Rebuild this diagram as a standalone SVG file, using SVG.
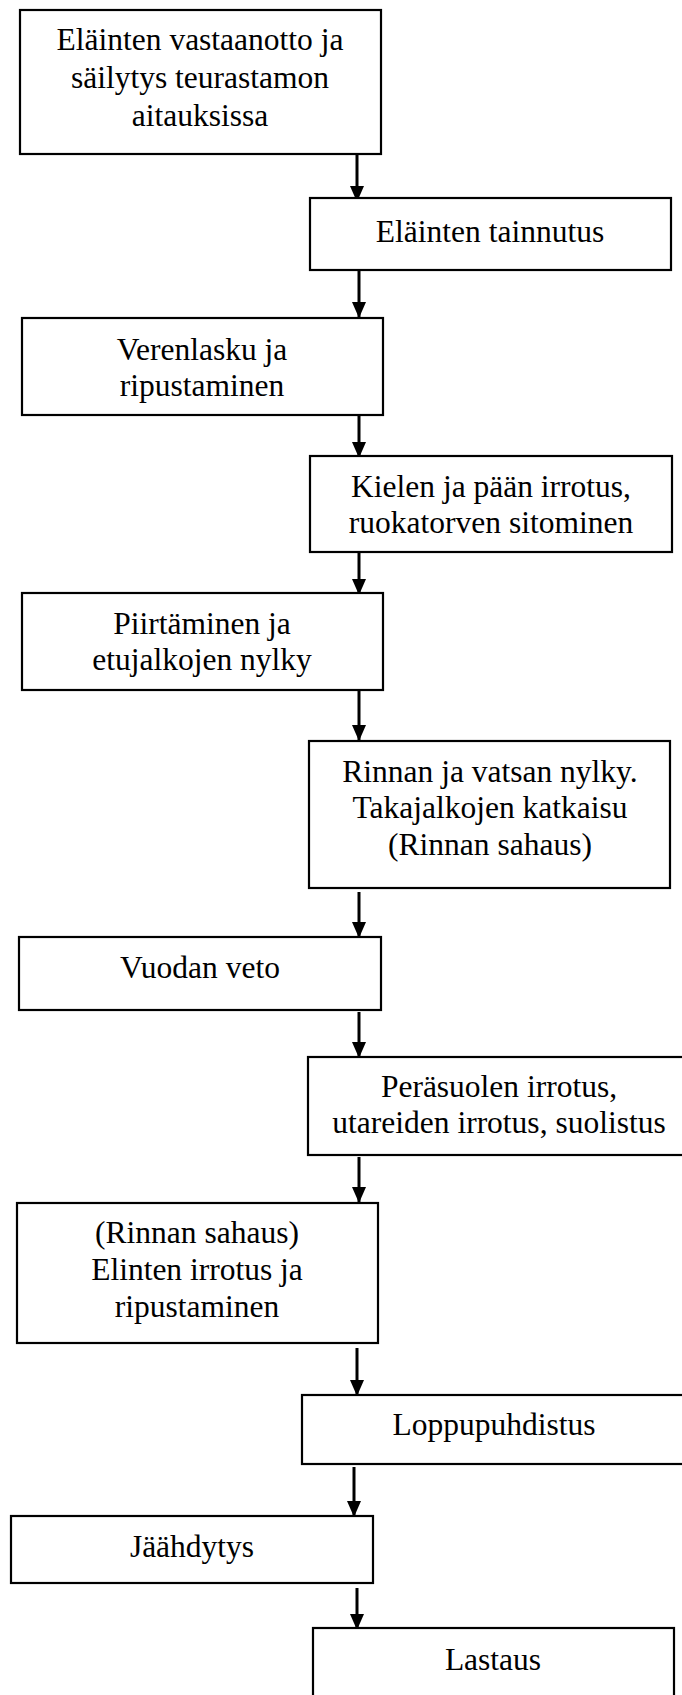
<svg xmlns="http://www.w3.org/2000/svg" width="682" height="1695" viewBox="0 0 682 1695">
<style>
.box{fill:#fff;stroke:#000;stroke-width:2.2}
.t{font-family:"Liberation Serif","Times New Roman",serif;font-size:31.5px;fill:#000;text-anchor:middle}
.c{stroke:#000;stroke-width:3;fill:none}
</style>
<defs>
<marker id="ah" markerUnits="userSpaceOnUse" markerWidth="18" markerHeight="16" viewBox="0 -8 16 16" refX="16" refY="0" orient="auto">
<path d="M0,-7 L16,0 L0,7 z" fill="#000"/>
</marker>
</defs>
<rect width="682" height="1695" fill="#fff"/>
<g id="connectors">
<line class="c" x1="357" y1="155" x2="357" y2="202" marker-end="url(#ah)"/>
<line class="c" x1="359" y1="271" x2="359" y2="318" marker-end="url(#ah)"/>
<line class="c" x1="359" y1="416" x2="359" y2="458" marker-end="url(#ah)"/>
<line class="c" x1="359" y1="553" x2="359" y2="595" marker-end="url(#ah)"/>
<line class="c" x1="359" y1="691" x2="359" y2="741" marker-end="url(#ah)"/>
<line class="c" x1="359" y1="892" x2="359" y2="938" marker-end="url(#ah)"/>
<line class="c" x1="359" y1="1012" x2="359" y2="1058" marker-end="url(#ah)"/>
<line class="c" x1="359" y1="1157" x2="359" y2="1203" marker-end="url(#ah)"/>
<line class="c" x1="357" y1="1348" x2="357" y2="1396" marker-end="url(#ah)"/>
<line class="c" x1="354" y1="1467" x2="354" y2="1517" marker-end="url(#ah)"/>
<line class="c" x1="357" y1="1588" x2="357" y2="1630" marker-end="url(#ah)"/>
</g>
<g id="n1"><rect class="box" x="20" y="10" width="361" height="144"/>
<text class="t" x="200" y="50">Eläinten vastaanotto ja</text>
<text class="t" x="200" y="88">säilytys teurastamon</text>
<text class="t" x="200" y="126">aitauksissa</text></g>
<g id="n2"><rect class="box" x="310" y="198" width="361" height="72"/>
<text class="t" x="490" y="242">Eläinten tainnutus</text></g>
<g id="n3"><rect class="box" x="22" y="318" width="361" height="97"/>
<text class="t" x="202" y="360">Verenlasku ja</text>
<text class="t" x="202" y="396">ripustaminen</text></g>
<g id="n4"><rect class="box" x="310" y="456" width="362" height="96"/>
<text class="t" x="491" y="497">Kielen ja pään irrotus,</text>
<text class="t" x="491" y="533">ruokatorven sitominen</text></g>
<g id="n5"><rect class="box" x="22" y="593" width="361" height="97"/>
<text class="t" x="202" y="634">Piirtäminen ja</text>
<text class="t" x="202" y="670">etujalkojen nylky</text></g>
<g id="n6"><rect class="box" x="309" y="741" width="361" height="147"/>
<text class="t" x="490" y="782">Rinnan ja vatsan nylky.</text>
<text class="t" x="490" y="818">Takajalkojen katkaisu</text>
<text class="t" x="490" y="855">(Rinnan sahaus)</text></g>
<g id="n7"><rect class="box" x="19" y="937" width="362" height="73"/>
<text class="t" x="200" y="978">Vuodan veto</text></g>
<g id="n8"><rect class="box" x="308" y="1057" width="382" height="98"/>
<text class="t" x="499" y="1097">Peräsuolen irrotus,</text>
<text class="t" x="499" y="1133">utareiden irrotus, suolistus</text></g>
<g id="n9"><rect class="box" x="17" y="1203" width="361" height="140"/>
<text class="t" x="197" y="1243">(Rinnan sahaus)</text>
<text class="t" x="197" y="1280">Elinten irrotus ja</text>
<text class="t" x="197" y="1317">ripustaminen</text></g>
<g id="n10"><rect class="box" x="302" y="1395" width="386" height="69"/>
<text class="t" x="494" y="1435">Loppupuhdistus</text></g>
<g id="n11"><rect class="box" x="11" y="1516" width="362" height="67"/>
<text class="t" x="192" y="1557">Jäähdytys</text></g>
<g id="n12"><rect class="box" x="313" y="1628" width="361" height="100"/>
<text class="t" x="493" y="1670">Lastaus</text></g>
</svg>
